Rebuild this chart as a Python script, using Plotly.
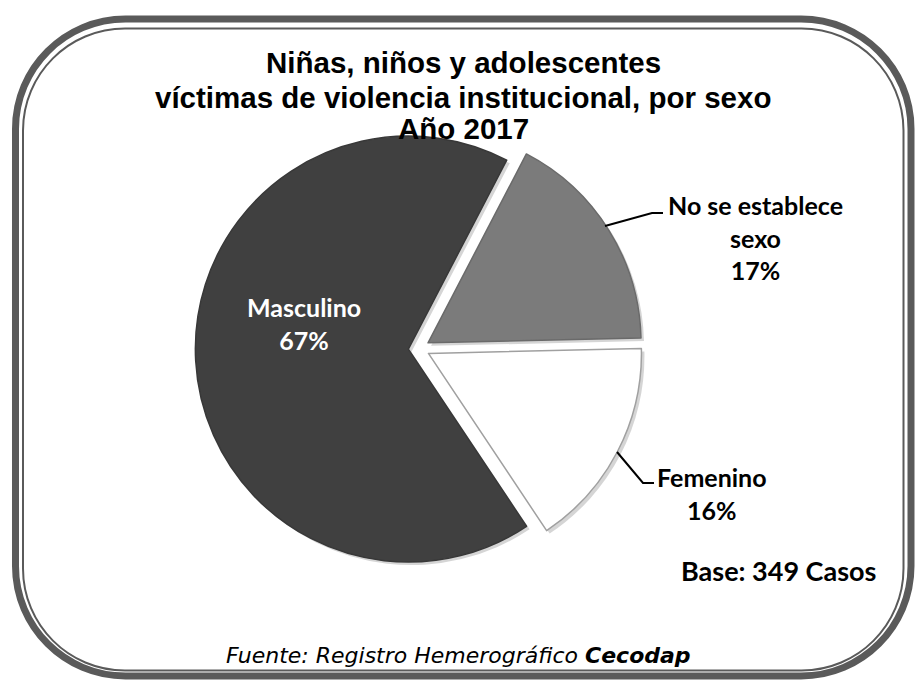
import textwrap
import plotly.graph_objects as go

W, H = 916, 681

# ---- data ----
categories = ["No se establece sexo", "Femenino", "Masculino"]
percentages = [17, 16, 67]
total_cases = 349
title_lines = ["Niñas, niños y adolescentes",
               "víctimas de violencia institucional, por sexo",
               "Año 2017"]
source_text = "Fuente: Registro Hemerográfico"
source_org = "Cecodap"

slice_colors = ["#7b7b7b", "#ffffff", "#404040"]
edge_colors = ["#6a6a6a", "#a0a0a0", "#383838"]


def px(x):
    return x / W


def py(y):
    return 1 - y / H


# pie geometry (pixels)
cx, cy, r, pull = 419, 348.5, 213, 0.05
half = r * (1 + pull)
sdx, sdy = 3, 3  # soft shadow offset

fig = go.Figure()
# soft shadow underneath the slices
fig.add_trace(go.Pie(
    labels=categories,
    values=percentages,
    sort=False,
    direction="clockwise",
    rotation=27.5,
    pull=[pull] * len(categories),
    marker=dict(colors=["#c4c4c4"] * len(categories), line=dict(width=0)),
    opacity=0.7,
    textinfo="none",
    hoverinfo="skip",
    showlegend=False,
    domain=dict(x=[px(cx - half + sdx), px(cx + half + sdx)],
                y=[py(cy + half + sdy), py(cy - half + sdy)]),
))
fig.add_trace(go.Pie(
    labels=categories,
    values=percentages,
    sort=False,
    direction="clockwise",
    rotation=27.5,
    pull=[pull] * len(categories),
    marker=dict(colors=slice_colors, line=dict(color=edge_colors, width=1.5)),
    textinfo="none",
    hoverinfo="label+percent",
    showlegend=False,
    domain=dict(x=[px(cx - half), px(cx + half)],
                y=[py(cy + half), py(cy - half)]),
))

label_font = dict(family="Lato, Carlito, Calibri, sans-serif", size=25, color="#000000")

# label positions (pixels) and text built from data
label_pos = {
    "No se establece sexo": (755, 237),
    "Femenino": (712, 493),
    "Masculino": (304, 324),
}
annotations = []
for cat, pct in zip(categories, percentages):
    txt = "<br>".join(textwrap.wrap(cat, 15)) + f"<br>{pct}%"
    x, y = label_pos[cat]
    col = "#ffffff" if cat == "Masculino" else "#000000"
    annotations.append(dict(
        x=px(x), y=py(y), xref="paper", yref="paper", text=f"<b>{txt}</b>",
        showarrow=False, xanchor="center", yanchor="middle",
        font=dict(label_font, color=col), align="center"))

annotations.append(dict(
    x=px(778.5), y=py(570), xref="paper", yref="paper",
    text=f"<b>Base: {total_cases} Casos</b>", showarrow=False,
    xanchor="center", yanchor="middle", font=dict(label_font, size=27)))

title_y = [62, 97, 128]
for line, yy in zip(title_lines, title_y):
    annotations.append(dict(
        x=px(463), y=py(yy), xref="paper", yref="paper",
        text=f"<b>{line}</b>", showarrow=False,
        xanchor="center", yanchor="middle",
        font=dict(family="Liberation Sans, Arial, sans-serif", size=29.5, color="#000000")))

annotations.append(dict(
    x=px(458), y=py(655), xref="paper", yref="paper",
    text=f"<i>{source_text} <b>{source_org}</b></i>", showarrow=False,
    xanchor="center", yanchor="middle",
    font=dict(family="DejaVu Sans, Verdana, sans-serif", size=22, color="#000000")))


def rounded_rect(l, t, rgt, b, rad):
    k = 0.5523 * rad
    pts = [
        f"M {px(l + rad)},{py(t)}",
        f"L {px(rgt - rad)},{py(t)}",
        f"C {px(rgt - rad + k)},{py(t)} {px(rgt)},{py(t + rad - k)} {px(rgt)},{py(t + rad)}",
        f"L {px(rgt)},{py(b - rad)}",
        f"C {px(rgt)},{py(b - rad + k)} {px(rgt - rad + k)},{py(b)} {px(rgt - rad)},{py(b)}",
        f"L {px(l + rad)},{py(b)}",
        f"C {px(l + rad - k)},{py(b)} {px(l)},{py(b - rad + k)} {px(l)},{py(b - rad)}",
        f"L {px(l)},{py(t + rad)}",
        f"C {px(l)},{py(t + rad - k)} {px(l + rad - k)},{py(t)} {px(l + rad)},{py(t)} Z",
    ]
    return " ".join(pts)


def poly(points):
    return "M " + " L ".join(f"{px(x)},{py(y)}" for x, y in points)


shapes = [
    dict(type="path", xref="paper", yref="paper",
         path=rounded_rect(15.5, 19, 911, 676, 110),
         line=dict(color="#5a5a5a", width=7), layer="below"),
    dict(type="path", xref="paper", yref="paper",
         path=rounded_rect(23, 28.5, 903.5, 670.5, 102),
         line=dict(color="#5a5a5a", width=2), layer="below"),
    dict(type="path", xref="paper", yref="paper",
         path=poly([(605, 226), (652, 213), (663, 213)]),
         line=dict(color="#000000", width=2)),
    dict(type="path", xref="paper", yref="paper",
         path=poly([(617, 452), (643, 483), (654, 483)]),
         line=dict(color="#000000", width=2)),
]

fig.update_layout(
    width=W, height=H,
    margin=dict(l=0, r=0, t=0, b=0),
    paper_bgcolor="#ffffff",
    plot_bgcolor="#ffffff",
    annotations=annotations,
    shapes=shapes,
)

fig.write_html(
    "out.html",
    config={"displayModeBar": False},
    post_script="document.body.style.margin='0px';document.body.style.overflow='hidden';",
)
